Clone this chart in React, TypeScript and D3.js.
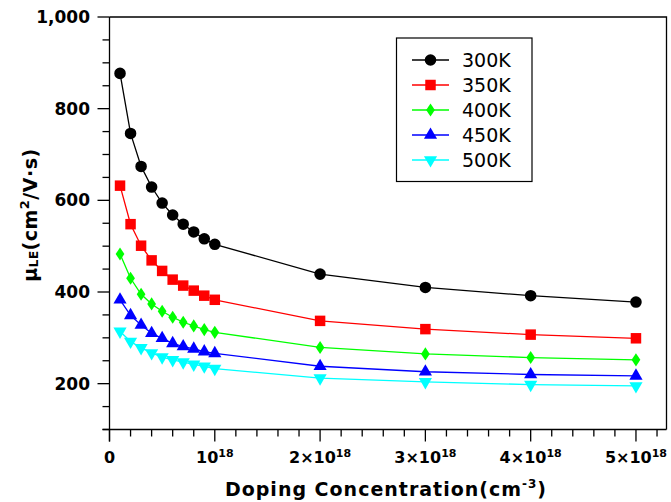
import React from "react";
import * as d3 from "d3";

const dopingE18 = [0.1, 0.2, 0.3, 0.4, 0.5, 0.6, 0.7, 0.8, 0.9, 1, 2, 3, 4, 5];
const mu300K = [877, 746, 674, 629, 594, 568, 548, 531, 516, 504, 439, 410, 392, 378];
const mu350K = [632, 548, 501, 469, 446, 427, 414, 403, 392, 383, 337, 319, 307, 299];
const mu400K = [483, 430, 395, 374, 358, 345, 334, 326, 318, 312, 279, 265, 257, 252];
const mu450K = [383, 349, 328, 310, 299, 288, 281, 276, 270, 266, 238, 226, 220, 217];
const mu500K = [314, 292, 278, 267, 258, 252, 247, 242, 238, 233, 212, 204, 198, 195];

const seriesNames = ["300K", "350K", "400K", "450K", "500K"];
const seriesColors = ["#000000", "#ff0000", "#00ff00", "#0000ff", "#00ffff"];
const seriesValues = [mu300K, mu350K, mu400K, mu450K, mu500K];

const yMajorTicks = [200, 400, 600, 800, 1000];
const yTickLabels = ["200", "400", "600", "800", "1,000"];
const xMajorTicks = [0, 1, 2, 3, 4, 5];
const xTickPrefix = ["0", "", "2×", "3×", "4×", "5×"];

const W = 671, H = 502;
const FONT = "'DejaVu Sans', Verdana, sans-serif";

function Marker({ kind, x, y, color }: { kind: number; x: number; y: number; color: string }) {
  const types = [d3.symbolCircle, d3.symbolSquare, d3.symbolDiamond, d3.symbolTriangle, d3.symbolTriangle];
  const sizes = [105, 110, 50, 75, 75];
  const path = d3.symbol().type(types[kind]).size(sizes[kind])() as string;
  const rot = kind === 4 ? 180 : 0;
  const sx = kind === 2 ? 1.15 : 1;
  return (
    <path d={path} fill={color} transform={`translate(${x},${y}) rotate(${rot}) scale(${sx},1)`} />
  );
}

export default function App() {
  const x = d3.scaleLinear().domain([0, 5.29]).range([109.5, 666.5]);
  const y = d3.scaleLinear().domain([100, 1000]).range([429.5, 17]);
  const line = d3.line<[number, number]>().x((d) => x(d[0])).y((d) => y(d[1]));

  const yMinor = d3.range(100, 1001, 50).filter((v) => !yMajorTicks.includes(v));
  const xMinor = d3.range(0, 5.21, 0.2).filter((v) => Math.abs(v - Math.round(v)) > 1e-6);

  const x0 = x(0), y0 = y(100);

  return (
    <svg width={W} height={H} style={{ position: "absolute", left: 0, top: 0, background: "#fff" }} fontFamily={FONT}>
      <rect x={0} y={0} width={W} height={H} fill="#fff" />
      {/* frame */}
      <path d={`M${x0},${y(1000)}H${x(5.29)}V${y0}`} fill="none" stroke="#000" strokeWidth={1.3} />
      {/* y axis */}
      <line x1={x0} x2={x0} y1={y(1000)} y2={y0 + 12} stroke="#000" strokeWidth={1.3} />
      {yMajorTicks.map((v) => (
        <line key={"ym" + v} x1={x0 - 12} x2={x0} y1={y(v)} y2={y(v)} stroke="#000" strokeWidth={1.3} />
      ))}
      {yMinor.map((v) => (
        <line key={"yn" + v} x1={x0 - 7} x2={x0} y1={y(v)} y2={y(v)} stroke="#000" strokeWidth={1.3} />
      ))}
      {yMajorTicks.map((v, i) => (
        <text key={"yl" + v} x={90} y={y(v)} dy="0.36em" textAnchor="end" fontSize={17} fontWeight="bold">
          {yTickLabels[i]}
        </text>
      ))}
      {/* x axis */}
      <line x1={x0 - 7} x2={x(5.29)} y1={y0} y2={y0} stroke="#000" strokeWidth={1.3} />
      {xMajorTicks.map((v) => (
        <line key={"xm" + v} x1={x(v)} x2={x(v)} y1={y0} y2={y0 + 12} stroke="#000" strokeWidth={1.3} />
      ))}
      {xMinor.map((v) => (
        <line key={"xn" + v} x1={x(v)} x2={x(v)} y1={y0} y2={y0 + 7} stroke="#000" strokeWidth={1.3} />
      ))}
      {xMajorTicks.map((v, i) => (
        <text key={"xl" + v} x={x(v)} y={463} textAnchor="middle" fontSize={16} fontWeight="bold">
          {v === 0 ? (
            "0"
          ) : (
            <>
              {xTickPrefix[i]}10
              <tspan fontSize={11} dy={-6}>18</tspan>
            </>
          )}
        </text>
      ))}
      {/* axis titles */}
      <text x={386} y={495.5} textAnchor="middle" fontSize={19} fontWeight="bold" letterSpacing={1}>
        Doping Concentration(cm<tspan fontSize={12} dy={-8}>-3</tspan>
        <tspan dy={8}>)</tspan>
      </text>
      <text transform={`translate(37,215) rotate(-90)`} textAnchor="middle" fontSize={19} fontWeight="bold" letterSpacing={0.5}>
        μ<tspan fontSize={12} dy={1}>LE</tspan>
        <tspan dy={-1}>(cm</tspan>
        <tspan fontSize={13} dy={-8}>2</tspan>
        <tspan dy={8}>/V·s)</tspan>
      </text>
      {/* series */}
      {seriesValues.map((vals, si) => {
        const pts = dopingE18.map((d, i) => [d, vals[i]] as [number, number]);
        return (
          <g key={seriesNames[si]}>
            <path d={line(pts) as string} fill="none" stroke={seriesColors[si]} strokeWidth={1.3} />
            {pts.map((p, i) => (
              <Marker key={i} kind={si} x={x(p[0])} y={y(p[1])} color={seriesColors[si]} />
            ))}
          </g>
        );
      })}
      {/* legend */}
      <rect x={396.5} y={38} width={135.5} height={143.5} fill="#fff" stroke="#000" strokeWidth={1.2} />
      {seriesNames.map((n, i) => {
        const ly = 60 + i * 25;
        return (
          <g key={"lg" + n}>
            <line x1={412} x2={449} y1={ly} y2={ly} stroke={seriesColors[i]} strokeWidth={1.3} />
            <Marker kind={i} x={430.5} y={ly} color={seriesColors[i]} />
            <text x={462} y={ly} dy="0.36em" fontSize={19}>
              {n}
            </text>
          </g>
        );
      })}
    </svg>
  );
}
